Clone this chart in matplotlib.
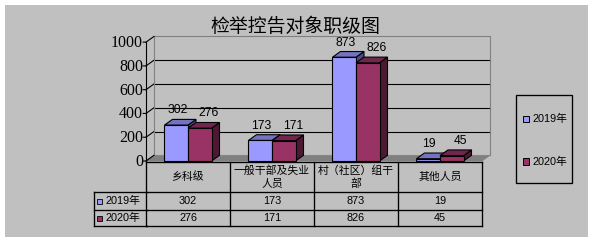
import matplotlib
matplotlib.use('Agg')
import matplotlib.pyplot as plt
from matplotlib.patches import Rectangle, Polygon
from matplotlib.lines import Line2D
import matplotlib.transforms as mtrans

# ---------------- data ----------------
title = '检举控告对象职级图'
categories = ['乡科级', '一般干部及失业\n人员', '村（社区）组干\n部', '其他人员']
series_names = ['2019年', '2020年']
values_2019 = [302, 173, 873, 19]
values_2020 = [276, 171, 826, 45]
y_ticks = [0, 200, 400, 600, 800, 1000]

# ---------------- style ----------------
W, H = 595, 243
BG = '#C0C0C0'
front_cols = ['#9999FF', '#993366']
top_cols = ['#7373C0', '#73264D']
side_cols = ['#4C4C80', '#4C1933']
CJK = ['Noto Sans CJK SC', 'DejaVu Sans']
MIX = ['Liberation Sans', 'Noto Sans CJK SC']
SERIF = ['Liberation Serif', 'DejaVu Serif']
LW = 0.8

fig = plt.figure(figsize=(W / 100, H / 100), dpi=100)
fig.patch.set_facecolor('white')
PX = mtrans.Affine2D().scale(1 / W, -1 / H).translate(0, 1) + fig.transFigure

fig.add_artist(Rectangle((5, 5), 583, 232, transform=PX, facecolor=BG,
                         edgecolor='none', zorder=-10))

# front plane axes
ax = fig.add_axes([146 / W, (H - 161) / H, 336 / W, 126 / H])
ax.set_xlim(-0.5, 3.5)
ax.set_ylim(0, 1060)
ax.axis('off')
ax.patch.set_alpha(0)

dx, dy = 0.095, 48  # depth offset in data units
x0, x1 = -0.5, 3.5
ymax = max(y_ticks)

# floor
ax.add_patch(Polygon([(x0, 0), (x1, 0), (x1 + dx, dy), (x0 + dx, dy)],
                     closed=True, facecolor='#808080', edgecolor='#808080',
                     lw=0.5, clip_on=False, zorder=1))
# back wall gridlines
for v in y_ticks[1:-1]:
    ax.plot([x0 + dx, x1 + dx], [v + dy, v + dy], color='black', lw=LW,
            clip_on=False, zorder=1)
    ax.plot([x0, x0 + dx], [v, v + dy], color='black', lw=LW,
            clip_on=False, zorder=1)
# back wall border
ax.plot([x0 + dx, x0 + dx, x1 + dx, x1 + dx], [dy, ymax + dy, ymax + dy, dy],
        color='#808080', lw=LW, clip_on=False, zorder=1)
ax.plot([x0, x0 + dx], [ymax, ymax + dy], color='black', lw=LW,
        clip_on=False, zorder=1)
ax.plot([x0, x0 + dx], [0, dy], color='black', lw=LW, clip_on=False, zorder=1)
# front value axis
ax.plot([x0, x0], [0, ymax], color='black', lw=LW, clip_on=False, zorder=2)
for v in y_ticks:
    ax.annotate('', xy=(x0, v), xytext=(-3, 0), textcoords='offset pixels',
                arrowprops=dict(arrowstyle='-', lw=LW, color='black',
                                shrinkA=0, shrinkB=0))
    ax.annotate(str(v), xy=(x0, v), xytext=(-3, -1), textcoords='offset pixels',
                ha='right', va='center', fontsize=11.5, family=SERIF,
                color='black')

# bars
bw = 0.28
series = [values_2019, values_2020]
label_off = [1, 9]
for i in range(len(categories)):
    for s, vals in enumerate(series):
        h = vals[i]
        xl = i - bw + s * bw
        xr = xl + bw
        z = 3 + s
        ax.add_patch(Polygon([(xr, 0), (xr + dx, dy), (xr + dx, h + dy), (xr, h)],
                             closed=True, facecolor=side_cols[s],
                             edgecolor='black', lw=LW, clip_on=False, zorder=z))
        ax.add_patch(Polygon([(xl, h), (xr, h), (xr + dx, h + dy), (xl + dx, h + dy)],
                             closed=True, facecolor=top_cols[s],
                             edgecolor='black', lw=LW, clip_on=False, zorder=z))
        ax.bar(xl, h, width=bw, align='edge', color=front_cols[s],
               edgecolor='black', lw=LW, clip_on=False, zorder=z)
        ax.annotate(str(h), xy=(xl + bw / 2, h + dy), xytext=(label_off[s], 9),
                    textcoords='offset pixels', ha='center', va='center',
                    fontsize=8.7, family=MIX, color='black', zorder=10)

# title
fig.text(295 / W, 1 - 26.5 / H, title, ha='center', va='center',
         fontsize=13.6, family=CJK, color='black')

# data table
BT = mtrans.blended_transform_factory(ax.transData, PX)
y_top, y_h, y_r1, y_r2 = 161.5, 192.3, 210.3, 226
lab_left = 94.3
def line(xs, ys, tr):
    fig.add_artist(Line2D(xs, ys, transform=tr, color='black', lw=LW * 1.2))
line([x0, x1], [y_top, y_top], BT)
for k in range(len(categories) + 1):
    line([x0 + k, x0 + k], [y_top, y_r2], BT)
for yy in (y_h, y_r1, y_r2):
    line([x0, x1], [yy, yy], BT)
    line([lab_left, 146.5], [yy, yy], PX)
line([lab_left, lab_left], [y_h, y_r2], PX)

for i, c in enumerate(categories):
    fig.text(i, (y_top + y_h) / 2, c, transform=BT, ha='center', va='center',
             fontsize=7.8, family=CJK, linespacing=1.25, color='black')
    for s, vals in enumerate(series):
        yc = (y_h + y_r1) / 2 if s == 0 else (y_r1 + y_r2) / 2
        fig.text(i, yc, str(vals[i]), transform=BT, ha='center', va='center',
                 fontsize=7.8, family=MIX, color='black')

for s, name in enumerate(series_names):
    yc = (y_h + y_r1) / 2 if s == 0 else (y_r1 + y_r2) / 2
    fig.add_artist(Rectangle((96.5, yc - 2.5), 5.5, 5.5, transform=PX,
                             facecolor=front_cols[s], edgecolor='black', lw=0.6))
    fig.text(105.5 / W, 1 - yc / H, name, ha='left', va='center',
             fontsize=7.8, family=MIX, color='black')

# legend
fig.add_artist(Rectangle((516.3, 95), 55.4, 88.3, transform=PX,
                         facecolor='none', edgecolor='black', lw=LW * 1.2))
for s, name in enumerate(series_names):
    yc = [119, 161.5][s]
    fig.add_artist(Rectangle((522.5, yc - 3.3), 6.6, 6.6, transform=PX,
                             facecolor=front_cols[s], edgecolor='black', lw=0.7))
    fig.text(532.5 / W, 1 - yc / H, name, ha='left', va='center',
             fontsize=7.8, family=MIX, color='black')

fig.savefig('out.png', dpi=100, facecolor=fig.get_facecolor())
